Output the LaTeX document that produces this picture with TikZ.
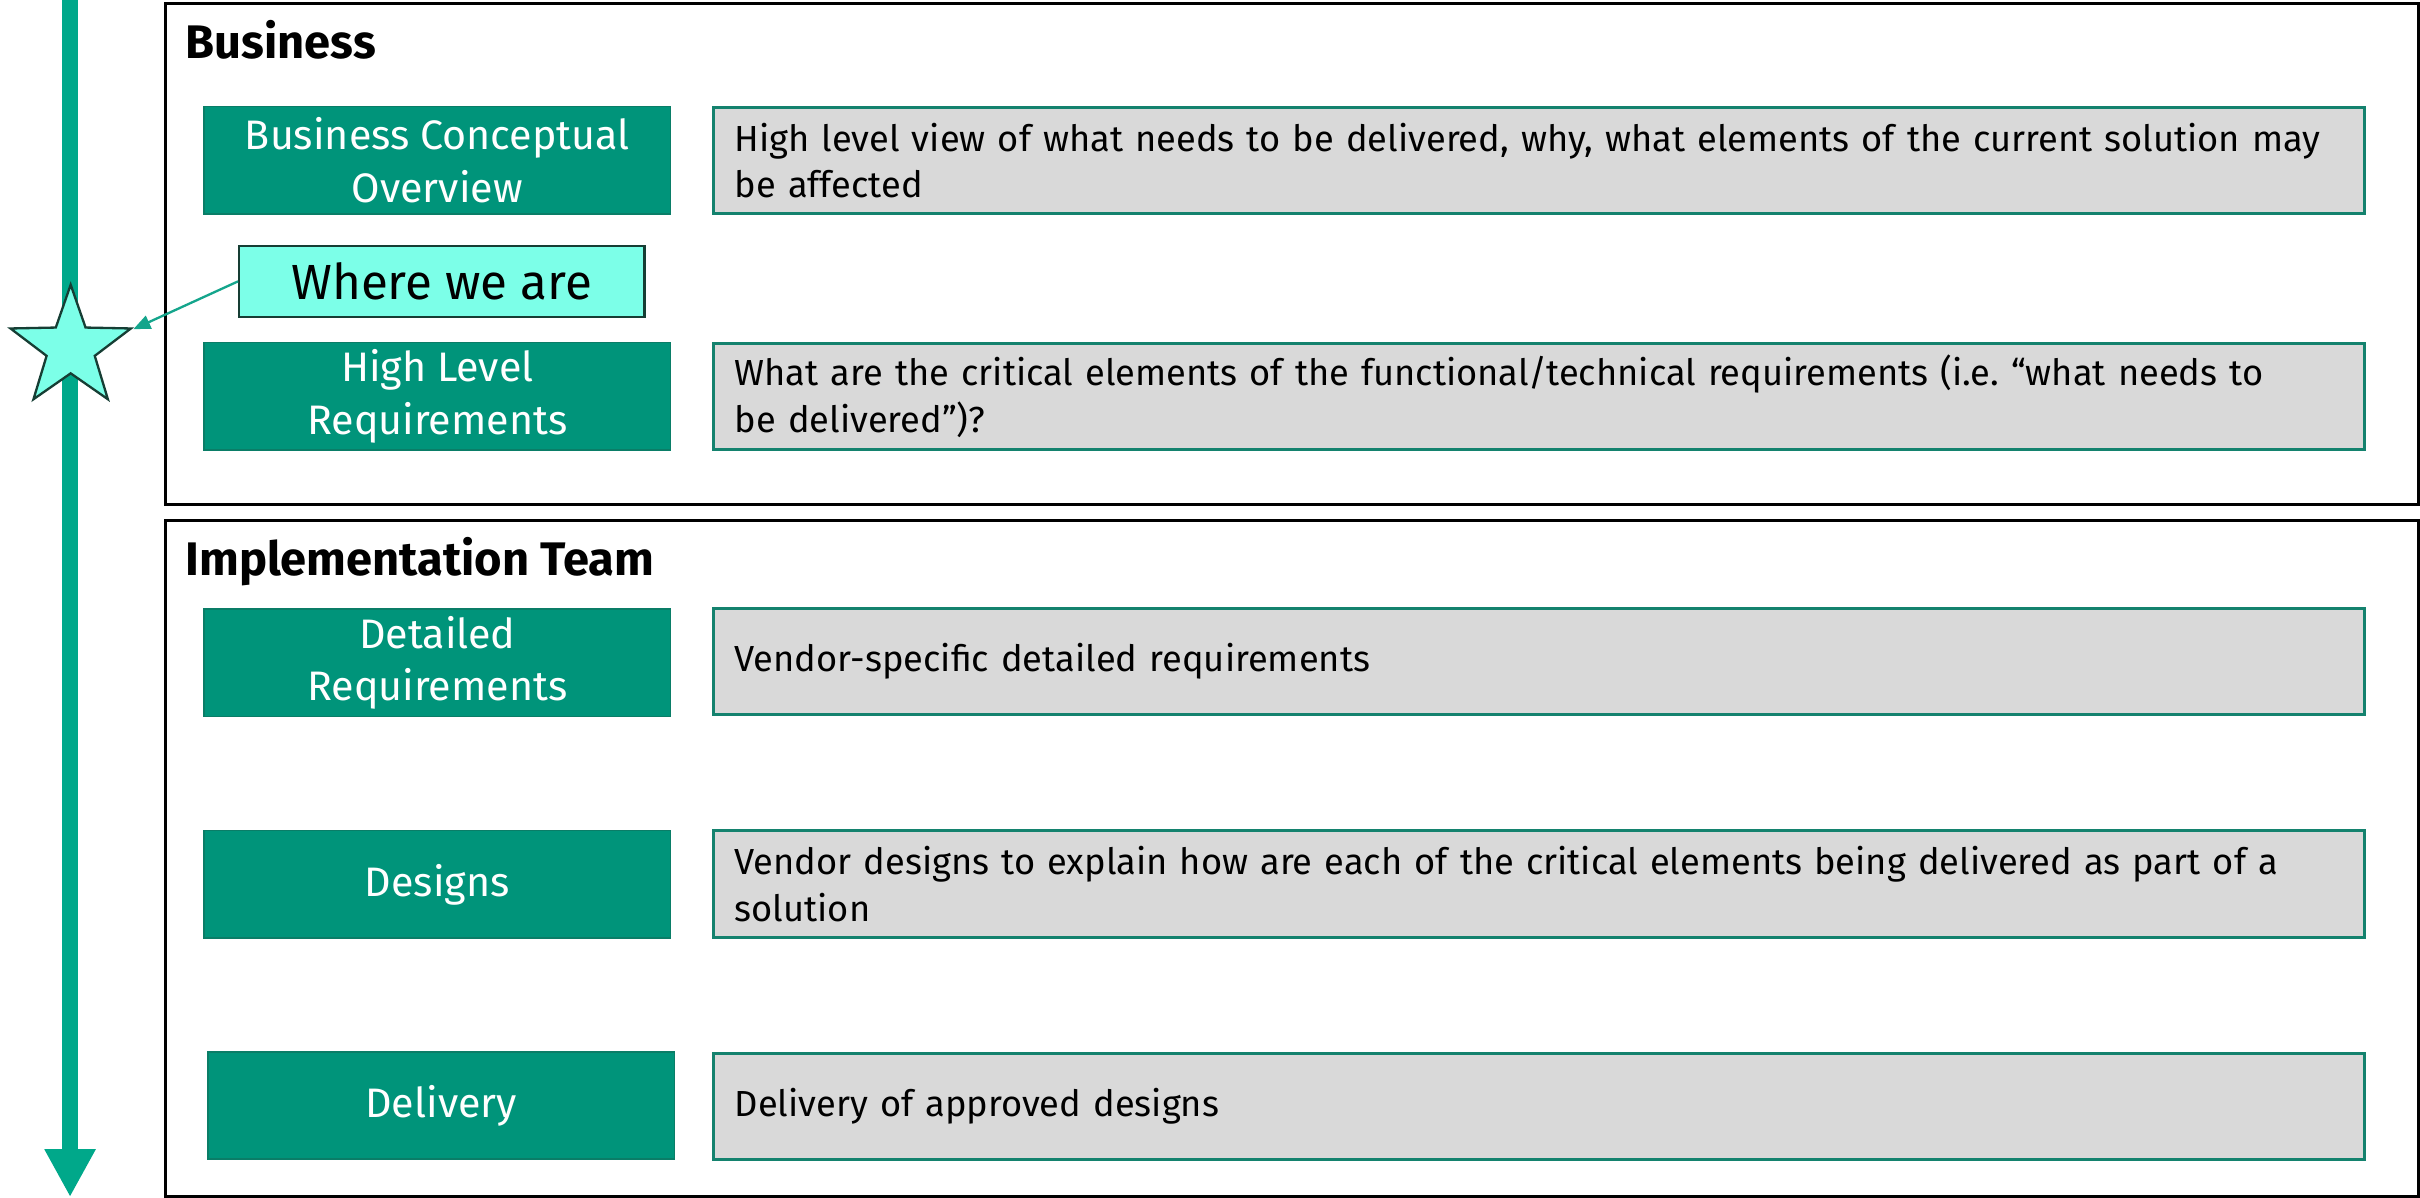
\documentclass[tikz,border=0pt]{standalone}
\usepackage{fontspec}
\setmainfont{Fira Sans}
\frenchspacing
\usetikzlibrary{arrows.meta,shapes.geometric,calc}
\definecolor{tline}{RGB}{0,168,138}
\definecolor{gfill}{RGB}{0,148,122}
\definecolor{gborder}{RGB}{10,125,103}
\definecolor{grayfill}{RGB}{217,217,217}
\definecolor{grayborder}{RGB}{20,130,110}
\definecolor{aqua}{RGB}{124,255,232}
\definecolor{aquaborder}{RGB}{22,62,52}
\definecolor{conn}{RGB}{20,165,140}
\begin{document}
\begin{tikzpicture}[x=1pt,y=-1pt,
  frame/.style={draw=black,line width=2pt,minimum width=1459.7pt,anchor=north west,inner sep=0pt},
  heading/.style={anchor=base west,inner sep=0pt,font=\fontsize{30.5}{36}\selectfont\bfseries},
  greenbox/.style={fill=gfill,draw=gborder,line width=1pt,minimum width=302.3pt,minimum height=69.5pt,
    text=white,align=center,inner sep=0pt,font=\fontsize{26.7}{34}\selectfont},
  graybox/.style={fill=grayfill,draw=grayborder,line width=2pt,text width=1042pt,minimum height=69pt,
    inner xsep=14pt,inner ysep=0pt,align=left,font=\fontsize{23.5}{30}\selectfont},
  wherebox/.style={fill=aqua,draw=aquaborder,line width=1.5pt,minimum width=262.5pt,minimum height=45.8pt,
    inner sep=0pt,font=\fontsize{32}{36}\selectfont},
  starnode/.style={star,star points=5,star point ratio=2.5,minimum size=82pt,inner sep=0pt,
    fill=aqua,draw=aquaborder,line width=1.5pt},
  timeline/.style={draw=tline,line width=10.3pt,-{Triangle[width=31pt,length=31pt]}},
  pointer/.style={draw=conn,line width=1.5pt,-{Triangle[width=9pt,length=11pt]}}
]
\useasboundingbox (0,0) rectangle (1568,775.6);
\fill[white] (0,0) rectangle (1568,775.6);

% timeline
\coordinate (ttop) at (45.4,0);
\coordinate (tbot) at (45.4,775.6);
\draw[timeline] (ttop) -- (tbot);

% frames
\node[frame,minimum height=324.5pt] (bizframe) at (106.3,1.5) {};
\node[frame,minimum height=438pt] (impframe) at (106.3,336.5) {};
\node[heading] (bizhead) at (120,37.8) {Business};
\node[heading] (imphead) at (120,373.2) {Implementation Team};

% rows
\node[greenbox] (bco) at (283.35,103.8) {Business Conceptual\\Overview};
\node[graybox] (bcod) at (997,103.95) {High level view of what needs to be delivered, why, what elements of the current solution may\\be affected};

\node[greenbox] (hlr) at (283.35,256.75) {High Level\\Requirements};
\node[graybox] (hlrd) at (997,256.8) {What are the critical elements of the functional/technical requirements (i.e. “what needs to\\be delivered”)?};

\node[greenbox] (det) at (283.35,429.35) {Detailed\\Requirements};
\node[graybox] (detd) at (997,428.5) {Vendor-specific detailed requirements};

\node[greenbox] (des) at (283.35,573) {Designs};
\node[graybox] (desd) at (997,572.8) {Vendor designs to explain how are each of the critical elements being delivered as part of a\\solution};

\node[greenbox] (del) at (285.8,716.3) {Delivery};
\node[graybox] (deld) at (997,717) {Delivery of approved designs};

% where we are
\node[starnode] (star) at (45.8,225.5) {};
\coordinate (startip) at (86.4,213.3);
\node[wherebox] (where) at (286.25,182.3) {Where we are};
\draw[pointer] (where.west) -- (startip);
\end{tikzpicture}
\end{document}
